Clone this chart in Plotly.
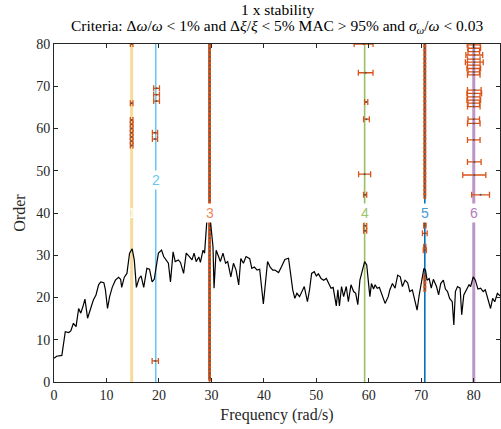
import plotly.graph_objects as go

# --- black curve (scaled spectrum) ---
curve_f = [0, 0.5, 1.5, 2.15, 2.8, 3.2, 3.7, 4.2, 4.7, 5.1, 5.5, 5.9, 6.4, 6.9, 7.5, 8.0, 8.5, 8.9,
           9.5, 9.8, 10.2, 10.6, 11.1, 11.7, 12.3, 12.7, 12.9, 13.4, 13.9, 14.4, 14.9, 15.3, 15.7,
           16.2, 16.6, 17.1, 17.7, 18.2, 18.7, 19.1, 19.5, 19.9, 20.5, 20.9, 21.8, 22.2, 22.7, 23.1,
           23.7, 24.1, 24.7, 25.2, 25.8, 26.3, 26.7, 27.1, 27.6, 27.9, 28.4, 28.7, 29.1, 29.5, 29.8,
           30.3, 30.5, 30.9, 31.4, 31.7, 32.2, 32.7, 33.1, 33.7, 34.2, 34.7, 35.2, 35.6, 36.1, 36.6,
           37.3, 37.7, 38.2, 38.7, 39.2, 39.6, 39.9, 40.2, 40.7, 41.2, 41.7, 42.1, 42.8, 43.4, 44.0,
           44.7, 45.0, 45.5, 45.9, 46.3, 46.8, 47.3, 47.7, 48.3, 48.7, 49.1, 49.6, 50.0, 50.4, 50.9,
           51.4, 51.9, 52.4, 52.8, 53.2, 53.5, 53.8, 54.1, 54.4, 54.8, 55.2, 55.7, 56.1, 56.6, 57.1,
           57.5, 57.9, 58.3, 58.8, 59.2, 59.6, 59.9, 60.2, 60.5, 60.9, 61.2, 61.6, 62.0, 62.4, 62.9,
           63.1, 63.7, 64.0, 64.5, 65.0, 65.5, 66.0, 66.4, 66.9, 67.4, 67.8, 68.3, 68.7, 69.2, 69.6,
           70.1, 70.5, 70.8, 71.1, 71.5, 71.9, 72.3, 72.9, 73.3, 73.7, 74.2, 74.6, 75.0, 75.4, 75.9,
           76.2, 76.5, 76.9, 77.4, 77.7, 78.1, 78.6, 79.1, 79.4, 79.9, 80.3, 80.8, 81.3, 81.8, 82.2,
           82.7, 83.2, 83.6, 84.0, 84.5, 85.0]
curve_y = [5.6, 6.1, 6.3, 11.9, 11.7, 12.1, 13.9, 13.1, 17.4, 16.3, 17.8, 19.6, 15.1, 17.0, 19.4, 20.6,
           23.0, 23.7, 23.5, 21.8, 17.4, 20.2, 22.4, 24.1, 24.8, 24.3, 22.4, 24.8, 25.7, 30.5, 31.5,
           28.9, 22.4, 24.5, 25.1, 22.4, 26.9, 26.7, 23.7, 24.3, 27.7, 30.5, 31.2, 29.7, 28.1, 23.7,
           30.8, 28.5, 28.9, 28.3, 25.7, 30.5, 29.7, 28.9, 30.5, 28.5, 29.6, 28.3, 31.2, 30.5, 37.6,
           39.5, 38.3, 32.0, 22.2, 31.2, 29.6, 28.5, 30.5, 28.1, 28.5, 24.9, 28.1, 26.5, 23.0, 29.2,
           28.1, 29.7, 29.2, 26.9, 27.2, 26.5, 26.7, 21.0, 18.5, 22.2, 28.5, 27.2, 26.5, 26.5, 25.9,
           27.4, 29.0, 29.3, 26.5, 21.8, 19.8, 21.0, 20.2, 21.8, 22.6, 19.0, 21.8, 25.7, 26.1, 25.1,
           25.6, 24.5, 24.1, 24.5, 23.0, 22.2, 22.4, 20.6, 18.0, 21.8, 18.0, 22.6, 20.2, 22.6, 19.0,
           23.0, 21.4, 21.0, 18.3, 24.1, 26.9, 28.5, 27.7, 24.1, 20.2, 23.3, 22.0, 23.0, 22.2, 22.4,
           21.0, 19.0, 18.6, 20.2, 21.8, 23.3, 22.2, 25.3, 24.9, 22.6, 24.1, 23.5, 21.4, 21.8, 19.8,
           17.0, 20.6, 24.1, 26.9, 26.5, 24.1, 24.5, 22.2, 24.3, 22.6, 20.6, 23.3, 24.1, 22.0, 21.4,
           19.8, 19.0, 13.5, 21.4, 22.6, 22.2, 15.9, 20.6, 22.0, 23.0, 22.6, 24.9, 24.1, 22.0, 22.2,
           21.4, 21.8, 19.8, 17.4, 19.8, 19.0, 21.0, 20.4]

# --- identified modes ---
mode_labels = ['1', '2', '3', '4', '5', '6']
mode_freq = [14.8, 19.4, 29.65, 59.2, 70.67, 80.0]
mode_label_order = [40, 47.8, 40, 40, 40, 40]

# --- stable poles: frequency, order, half width of the frequency spread ---
pole_f = ([14.8] * 9
          + [19.55, 19.55, 19.55, 19.25, 19.25, 19.3]
          + [29.65] * 77
          + [59.0, 59.4, 59.5, 59.55, 59.2, 59.3, 59.3, 59.3]
          + [70.67] * 46
          + [80.0, 80.1, 80.0, 80.1, 80.0, 80.1, 80.0, 80.0, 80.0, 80.0, 80.1, 80.1, 80.0, 80.0,
             80.0, 80.0, 80.0, 80.0, 80.0, 80.1, 80.1, 81.3])
pole_order = ([80, 66, 62, 61, 60, 59, 58, 57, 56]
              + [69.5, 68, 66.5, 59, 57.5, 5]
              + [1, 2, 3, 4, 5, 6, 7, 8, 9, 10, 11, 12, 13, 14, 15, 16, 17, 18, 19, 20, 21, 22, 23,
                 24, 25, 26, 27, 28, 29, 30, 31, 32, 33, 34, 35, 36, 37, 38, 42, 43, 44, 45, 46, 47,
                 48, 49, 50, 51, 52, 53, 54, 55, 56, 57, 58, 59, 60, 61, 62, 63, 64, 65, 66, 67, 68,
                 69, 70, 71, 72, 73, 74, 75, 76, 77, 78, 79, 80]
              + [80, 73.2, 66.3, 62.2, 49.2, 44.3, 37, 35.8]
              + [80, 79, 78, 77, 76, 75, 74, 73, 72, 71, 70, 69, 68, 67, 66, 65, 64, 63, 62, 61, 60,
                 59, 58, 57, 56, 55, 54, 53, 52, 51, 50, 49, 48, 47, 46, 45, 44, 37.5, 37, 35.2, 32,
                 31.2, 25, 24, 23, 22]
              + [79.8, 79.0, 78.2, 77.4, 76.4, 75.7, 75.0, 74.2, 73.4, 72.7, 69.1, 68.3, 67.5, 66.7,
                 66.0, 65.2, 62.2, 61.2, 57.3, 52.1, 49.0, 44.3])
pole_hw = ([0.25] * 9
           + [0.55, 0.55, 0.55, 0.5, 0.5, 0.6]
           + [0.15] * 77
           + [1.8, 1.4, 0.3, 0.55, 1.15, 0.3, 0.3, 0.3]
           + [0.15] * 37 + [0.2, 0.2, 0.45, 0.2, 0.3, 0.15, 0.15, 0.15, 0.15]
           + [1.25, 1.2, 1.1, 1.6, 1.2, 1.7, 1.2, 1.3, 1.1, 1.2, 1.3, 1.4, 1.2, 1.3, 1.1, 1.2, 1.1,
              1.2, 1.2, 1.3, 2.2, 1.7])

line_colors = ['#EDB120', '#4DBEEE', '#D95319', '#77AC30', '#0072BD', '#7E2F8E']
line_opacity = [0.45, 1, 1, 0.75, 1, 0.5]
line_width = [3, 1.3, 1.5, 1.6, 1.6, 3]
label_colors = ['#FFFFFF', '#6CC8F0', '#EE8A60', '#9CC46A', '#4A9AD0', '#B07CBA']
FONT = 'Liberation Serif'
AX = '#262626'

fig = go.Figure()

# mode lines
for i in range(len(mode_freq)):
    fig.add_trace(go.Scatter(x=[mode_freq[i], mode_freq[i]], y=[0, 80], mode='lines',
                             line=dict(color=line_colors[i], width=line_width[i]),
                             opacity=line_opacity[i], hoverinfo='skip'))

# stable poles with frequency spread
fig.add_trace(go.Scatter(
    x=pole_f, y=pole_order, mode='markers',
    marker=dict(color='#555555', size=2),
    error_x=dict(type='data', array=pole_hw, color='#D95319', thickness=1.3, width=3),
))

# spectrum curve
fig.add_trace(go.Scatter(x=curve_f, y=curve_y, mode='lines',
                         line=dict(color='black', width=1.2)))

for i in range(len(mode_freq)):
    fig.add_annotation(x=mode_freq[i], y=mode_label_order[i], text=mode_labels[i],
                       showarrow=False, bgcolor='rgba(0,0,0,0)' if i == 0 else 'white',
                       font=dict(family='Liberation Sans', size=14, color=label_colors[i]),
                       borderpad=1)

# title lines
fig.add_annotation(xref='paper', yref='paper', x=0.5, y=1.1006, yanchor='middle',
                   text='1 x stability', showarrow=False,
                   font=dict(family=FONT, size=15.5, color='black'))
fig.add_annotation(xref='paper', yref='paper', x=0.5, y=1.0503, yanchor='middle',
                   text=('Criteria: Δ<i>ω</i>/<i>ω</i> &lt; 1% and Δ<i>ξ</i>/<i>ξ</i> &lt; 5% '
                         'MAC &gt; 95% and <i>σ</i><sub><i>ω</i></sub>/<i>ω</i> &lt; 0.03'),
                   showarrow=False, font=dict(family=FONT, size=15.5, color='black'))

axis_style = dict(showgrid=False, zeroline=False, showline=True, linecolor=AX, linewidth=1,
                  mirror='ticks', ticks='inside', ticklen=4, tickcolor=AX, automargin=False,
                  tickfont=dict(family=FONT, size=14, color=AX))

fig.update_layout(
    width=501, height=429,
    margin=dict(l=54, r=1, t=44, b=47),
    paper_bgcolor='white', plot_bgcolor='white',
    showlegend=False,
    xaxis=dict(range=[0, 85], tickvals=[0, 10, 20, 30, 40, 50, 60, 70, 80],
               title=dict(text='Frequency (rad/s)', font=dict(family=FONT, size=16, color=AX),
                          standoff=7), **axis_style),
    yaxis=dict(range=[0, 80], tickvals=[0, 10, 20, 30, 40, 50, 60, 70, 80],
               title=dict(text='Order', font=dict(family=FONT, size=16, color=AX), standoff=6),
               **axis_style),
)

fig.write_html("out.html", config={'displayModeBar': False},
               post_script="document.body.style.margin='0';document.body.style.overflow='hidden';")
